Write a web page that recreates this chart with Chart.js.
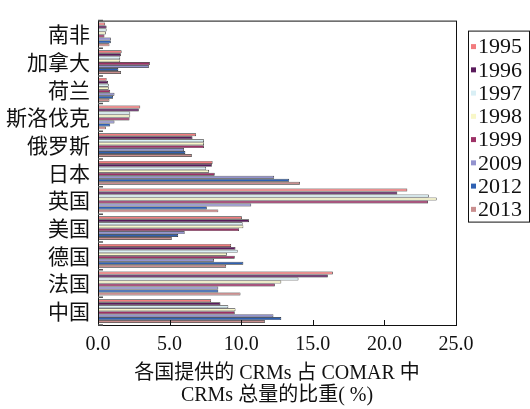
<!DOCTYPE html>
<html>
<head>
<meta charset="utf-8">
<script src="https://cdn.jsdelivr.net/npm/chart.js@4/dist/chart.umd.min.js"></script>
<style>
  html, body { margin: 0; padding: 0; background: #fff; }
  #wrap { width: 530px; height: 409px; }
</style>
</head>
<body>
<div id="wrap"><canvas id="crmChart"></canvas></div>
<script>
// countries, top to bottom
const countries = ['南非', '加拿大', '荷兰', '斯洛伐克', '俄罗斯', '日本', '英国', '美国', '德国', '法国', '中国'];
const years = ['1995', '1996', '1997', '1998', '1999', '2009', '2012', '2013'];
const yearColors = ['#f27c7e', '#5a1b5c', '#d9eff5', '#f8f7c8', '#9d3166', '#9393cf', '#2f61b2', '#c98e8e'];

// share (%) per country, one array per year
const v1995 = [0.5, 1.65, 0.6, 2.95, 6.85, 8.0, 21.6, 10.05, 9.3, 16.4, 7.9];
const v1996 = [0.6, 1.6, 0.7, 2.85, 6.6, 7.95, 20.9, 10.55, 9.6, 16.05, 8.55];
const v1997 = [0.6, 1.55, 0.75, 2.25, 7.4, 7.55, 23.1, 10.1, 9.75, 14.0, 9.1];
const v1998 = [0.55, 1.55, 0.75, 2.25, 7.4, 7.75, 23.65, 10.15, 9.0, 12.8, 9.6];
const v1999 = [0.45, 3.62, 0.85, 2.2, 7.4, 8.15, 23.05, 9.85, 9.55, 12.35, 9.55];
const v2009 = [0.9, 3.55, 1.15, 1.15, 6.0, 12.3, 10.7, 6.05, 8.1, 8.4, 12.25];
const v2012 = [0.9, 1.42, 1.05, 0.85, 6.1, 13.35, 7.6, 5.6, 10.15, 8.4, 12.8];
const v2013 = [0.8, 1.6, 0.8, 0.55, 6.55, 14.1, 8.4, 5.15, 8.95, 9.95, 11.65];
const seriesValues = [v1995, v1996, v1997, v1998, v1999, v2009, v2012, v2013];

const xTicks = [0, 5, 10, 15, 20, 25];

const SERIF = '"Liberation Serif", "Times New Roman", "Noto Sans CJK SC", serif';
const CJK = '"Noto Sans CJK SC", "Liberation Serif", serif';

// frame, inward ticks and the boxed legend
const framePlugin = {
  id: 'frame',
  afterDraw(chart) {
    const { ctx, chartArea: a, scales } = chart;
    ctx.save();
    ctx.strokeStyle = '#111';
    ctx.lineWidth = 1;
    ctx.strokeRect(a.left + 0.5, a.top + 0.5, a.right - a.left, a.bottom - a.top);

    // x ticks pointing up
    ctx.beginPath();
    xTicks.forEach((t) => {
      const px = Math.round(scales.x.getPixelForValue(t)) + 0.5;
      ctx.moveTo(px, a.bottom);
      ctx.lineTo(px, a.bottom - 5);
    });
    ctx.stroke();

    // category separators pointing right
    ctx.strokeStyle = '#555';
    ctx.lineWidth = 1.5;
    ctx.beginPath();
    for (let i = 0; i <= countries.length; i++) {
      const py = scales.y.getPixelForValue(i - 0.5);
      ctx.moveTo(a.left, py);
      ctx.lineTo(a.left + 5, py);
    }
    ctx.stroke();

    // legend
    const lx = a.right + 12;
    const ly = a.top + 10;
    const lw = 61;
    const rowH = 23.25;
    const lh = rowH * years.length + 5;
    ctx.strokeStyle = '#111';
    ctx.lineWidth = 1;
    ctx.strokeRect(lx + 0.5, ly + 0.5, lw, lh);
    ctx.font = '22px ' + SERIF;
    ctx.textBaseline = 'middle';
    ctx.textAlign = 'left';
    years.forEach((y, i) => {
      const cy = ly + 16 + i * rowH;
      ctx.fillStyle = yearColors[i];
      ctx.fillRect(lx + 3, cy - 2.5, 5, 5);
      ctx.fillStyle = '#111';
      ctx.fillText(y, lx + 10, cy + 1);
    });
    ctx.restore();
  }
};

const datasets = years.map((y, i) => ({
  label: y,
  data: seriesValues[i],
  backgroundColor: yearColors[i],
  borderColor: '#222',
  borderWidth: 0.7,
  categoryPercentage: 0.86,
  barPercentage: 1.0
}));

new Chart(document.getElementById('crmChart'), {
  type: 'bar',
  data: { labels: countries, datasets },
  options: {
    indexAxis: 'y',
    responsive: true,
    maintainAspectRatio: false,
    animation: false,
    layout: { padding: { top: 12, right: 74, left: 0, bottom: 0 } },
    plugins: {
      legend: { display: false },
      tooltip: { enabled: false }
    },
    scales: {
      x: {
        min: 0,
        max: 25,
        afterBuildTicks: (scale) => { scale.ticks = xTicks.map((v) => ({ value: v })); },
        afterFit: (scale) => { scale.height = 84; },
        grid: { display: false, drawTicks: false },
        border: { display: true, color: '#111' },
        ticks: {
          padding: 8,
          color: '#111',
          font: { family: SERIF, size: 20 },
          callback: (v) => Number(v).toFixed(1)
        },
        title: {
          display: true,
          text: ['各国提供的 CRMs 占 COMAR 中', 'CRMs 总量的比重( %)'],
          color: '#111',
          font: { family: SERIF, size: 20, lineHeight: 1.1 },
          padding: { top: 0, bottom: 2 }
        }
      },
      y: {
        afterFit: (scale) => { scale.width = 98; },
        grid: { display: false, drawTicks: false },
        border: { display: true, color: '#111' },
        ticks: {
          autoSkip: false,
          padding: 8,
          color: '#111',
          font: { family: CJK, size: 21 }
        }
      }
    }
  },
  plugins: [framePlugin]
});
</script>
</body>
</html>
